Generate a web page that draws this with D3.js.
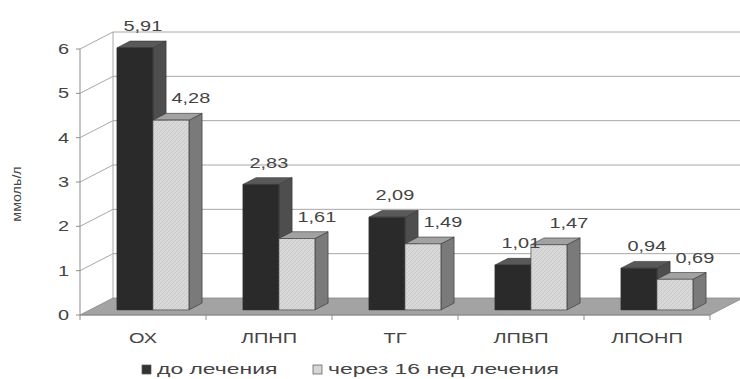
<!DOCTYPE html>
<html><head><meta charset="utf-8">
<script src="https://cdn.jsdelivr.net/npm/d3@7"></script>
<style>body{margin:0;background:#fff}svg{display:block}</style>
</head><body>
<svg id="c" width="740" height="379"></svg>
<script>
const categories = ["ОХ", "ЛПНП", "ТГ", "ЛПВП", "ЛПОНП"];
const beforeValues = [5.91, 2.83, 2.09, 1.01, 0.94];
const afterValues = [4.28, 1.61, 1.49, 1.47, 0.69];
const seriesNames = ["до лечения", "через 16 нед лечения"];
const yTicks = [0, 1, 2, 3, 4, 5, 6];
const yTitle = "ммоль/л";

const svg = d3.select("#c");
const DX = 33, DY = 17;          // oblique depth offset
const Z0 = 0.3, Z1 = 0.7;        // bar depth extent
const SX = 1.33;                 // horizontal text stretch
const x = d3.scaleBand().domain(categories).range([80, 710]).padding(0);
const inner = d3.scaleBand().domain([0, 1]).range([0, x.bandwidth()]).paddingInner(0).paddingOuter(0.75);
const y = d3.scaleLinear().domain([0, 6]).range([315, 49]);
const P = (px, v, z) => [px + z * DX, y(v) - z * DY];
const fmt = v => d3.format(".2f")(v).replace(".", ",");
const txtCol = "#444";

function text(g, px, py, s, anchor, size, rot, sx) {
  const t = g.append("g").attr("transform", `translate(${px},${py})` + (rot ? ` rotate(${rot})` : ""))
    .append("text").attr("transform", `scale(${sx || SX},1)`)
    .attr("text-anchor", anchor || "middle")
    .attr("font-family", "Liberation Sans, Arial, sans-serif")
    .attr("font-size", size || 15).attr("fill", txtCol).text(s);
  return t;
}

const defs = svg.append("defs");
const pat = defs.append("pattern").attr("id", "hatch").attr("patternUnits", "userSpaceOnUse")
  .attr("width", 4).attr("height", 4);
pat.append("rect").attr("width", 4).attr("height", 4).attr("fill", "#d9d9d9");
pat.append("path").attr("d", "M0,4 L4,0 M-1,1 L1,-1 M3,5 L5,3").attr("stroke", "#c4c4c4").attr("stroke-width", 0.8);

const line = d3.line();
const grid = svg.append("g").attr("stroke", "#a8a8a8").attr("fill", "none").attr("stroke-width", 1);
yTicks.forEach(v => {
  if (v === 0) return;
  grid.append("path").attr("d", line([P(80, v, 0), P(80, v, 1), P(710, v, 1)]));
});
grid.append("path").attr("d", line([P(80, 0, 1), P(80, 6, 1)]));
grid.append("path").attr("d", line([P(710, 0, 1), P(710, 6, 1)])).attr("stroke", "#d0d0d0");

// floor
svg.append("path").attr("d", line([P(80, 0, 0), P(710, 0, 0), P(710, 0, 1), P(80, 0, 1)]) + "Z")
  .attr("fill", "#a3a3a3").attr("stroke", "#888").attr("stroke-width", 0.8);

// axes
const ax = svg.append("g").attr("stroke", "#8c8c8c").attr("stroke-width", 1).attr("fill", "none");
ax.append("path").attr("d", line([[80, y(0)], [80, y(6)]]));
ax.append("path").attr("d", line([[80, y(0)], [710, y(0)]]));
yTicks.forEach(v => ax.append("path").attr("d", line([[76, y(v)], [80, y(v)]])));
d3.range(categories.length + 1).forEach(i => {
  const px = 80 + i * x.bandwidth();
  ax.append("path").attr("d", line([[px, y(0)], [px, y(0) + 5]]));
});

const tg = svg.append("g");
yTicks.forEach(v => text(tg, 69, y(v) + 5, String(v), "end", 15));
text(tg, 21, 194, yTitle, "middle", 13, -90, 1.1);

// bars
const styles = [
  { front: "#2a2a2a", side: "#4e4e4e", top: "#595959", dx: 8 },
  { front: "url(#hatch)", side: "#7a7a7a", top: "#a2a2a2", dx: 20 }
];
const bars = svg.append("g").attr("stroke", "#333").attr("stroke-width", 0.6).attr("stroke-linejoin", "round");
const series = [beforeValues, afterValues];
categories.forEach((c, i) => {
  series.forEach((vals, s) => {
    const v = vals[i];
    const x0 = x(c) + inner(s), x1 = x0 + inner.bandwidth();
    const st = styles[s];
    bars.append("path").attr("fill", st.side)
      .attr("d", line([P(x1, 0, Z0), P(x1, v, Z0), P(x1, v, Z1), P(x1, 0, Z1)]) + "Z");
    bars.append("path").attr("fill", st.top)
      .attr("d", line([P(x0, v, Z0), P(x1, v, Z0), P(x1, v, Z1), P(x0, v, Z1)]) + "Z");
    bars.append("path").attr("fill", st.front)
      .attr("d", line([P(x0, 0, Z0), P(x1, 0, Z0), P(x1, v, Z0), P(x0, v, Z0)]) + "Z");
  });
});

// value labels
const lg = svg.append("g");
categories.forEach((c, i) => {
  series.forEach((vals, s) => {
    const v = vals[i];
    const cx = x(c) + inner(s) + inner.bandwidth() / 2;
    const pf = P(cx, v, Z0), pb = P(cx, v, Z1);
    text(lg, pf[0] + styles[s].dx, pb[1] - 10, fmt(v), "middle", 15);
  });
});

// category labels
categories.forEach(c => text(lg, x(c) + x.bandwidth() / 2, 343, c, "middle", 15));

// legend
const leg = svg.append("g");
const legX = [142, 313];
seriesNames.forEach((n, s) => {
  leg.append("rect").attr("x", legX[s]).attr("y", 365).attr("width", 9).attr("height", 9)
    .attr("fill", s === 0 ? "#333" : "#d6d6d6").attr("stroke", "#555").attr("stroke-width", 0.7);
  text(leg, legX[s] + 15, 374, n, "start", 15.5, 0, 1.48);
});
</script>
</body></html>
